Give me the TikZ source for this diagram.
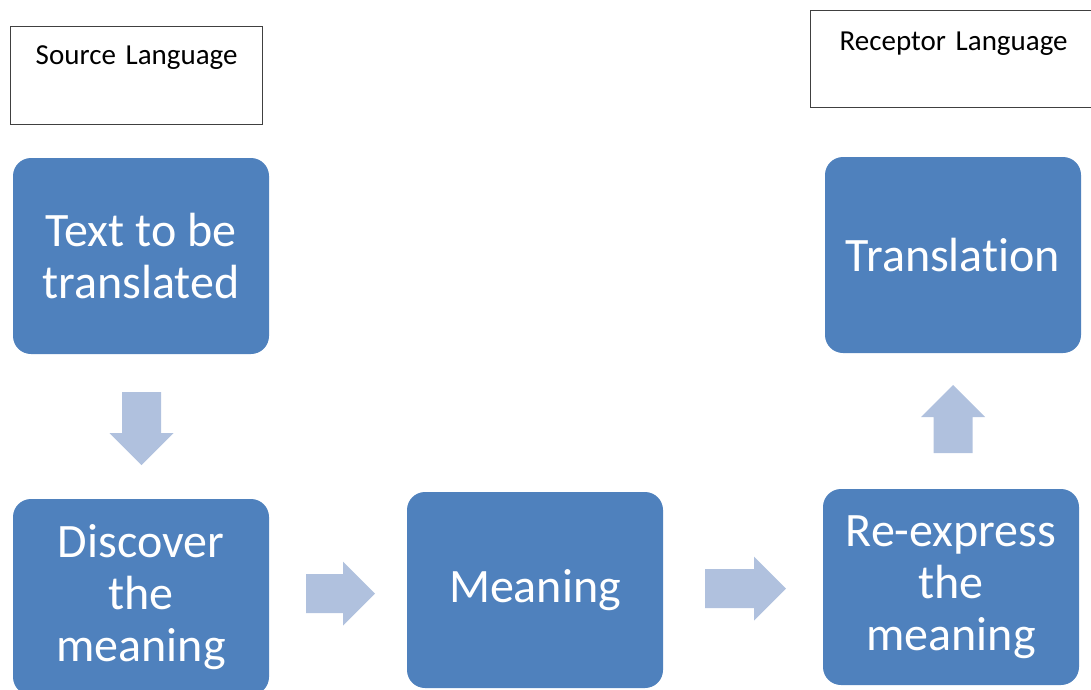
\documentclass[tikz,border=0pt]{standalone}
\usepackage{fontspec}
\setmainfont{Carlito}[RawFeature={-liga}]
\usetikzlibrary{calc}
\definecolor{boxblue}{RGB}{79,129,189}
\definecolor{arrowblue}{RGB}{176,193,222}
\definecolor{framegray}{RGB}{64,64,64}
\tikzset{
  stepbox/.style={rounded corners=18pt, fill=boxblue, text=white,
    minimum width=256pt, minimum height=196pt, inner sep=0pt, align=center,
    font=\fontsize{48}{52}\selectfont},
  langbox/.style={draw=framegray, line width=1.3pt, fill=white, inner sep=0pt,
    align=center, font=\fontsize{29}{34}\selectfont},
  pics/fatarrow/.style={code={
    \fill[arrowblue] ({-#1/2},-19.5) -- ({#1/2-32},-19.5) -- ({#1/2-32},-32)
      -- ({#1/2},0) -- ({#1/2-32},32) -- ({#1/2-32},19.5) -- ({-#1/2},19.5) -- cycle;
  }}
}
\begin{document}
\begin{tikzpicture}[x=1pt,y=-1pt]
\useasboundingbox (0,0) rectangle (1091,689);
\clip (0,0) rectangle (1091,689);

\node[langbox, anchor=north west, text width=252pt, text height=38pt, text depth=60pt] (src) at (10,26) {Source Language};
\node[langbox, anchor=north west, text width=286pt, text height=39.5pt, text depth=57.5pt] (rec) at (810,10) {Receptor Language};

\node[stepbox] (text) at (141,256) {Text to be\\translated};
\node[stepbox] (disc) at (141,597) {Discover\\the\\meaning};
\node[stepbox] (mean) at (535,590) {\raisebox{-2pt}{Meaning}};
\node[stepbox] (reex) at (951,587) {Re-express\\the\\meaning};
\node[stepbox] (trans) at (953,255) {\raisebox{-2pt}{Translation}};

\path ($(text.south)!0.5!(disc.north)+(0.5,2)$) pic[rotate=-90] {fatarrow=73};
\path ($(disc.east)!0.5!(mean.west)+(2.5,0)$) pic {fatarrow=69};
\path ($(mean.east)!0.5!(reex.west)+(2.5,0)$) pic {fatarrow=81};
\path ($(reex.north)!0.5!(trans.south)+(1,-2)$) pic[rotate=90] {fatarrow=68};
\end{tikzpicture}
\end{document}
